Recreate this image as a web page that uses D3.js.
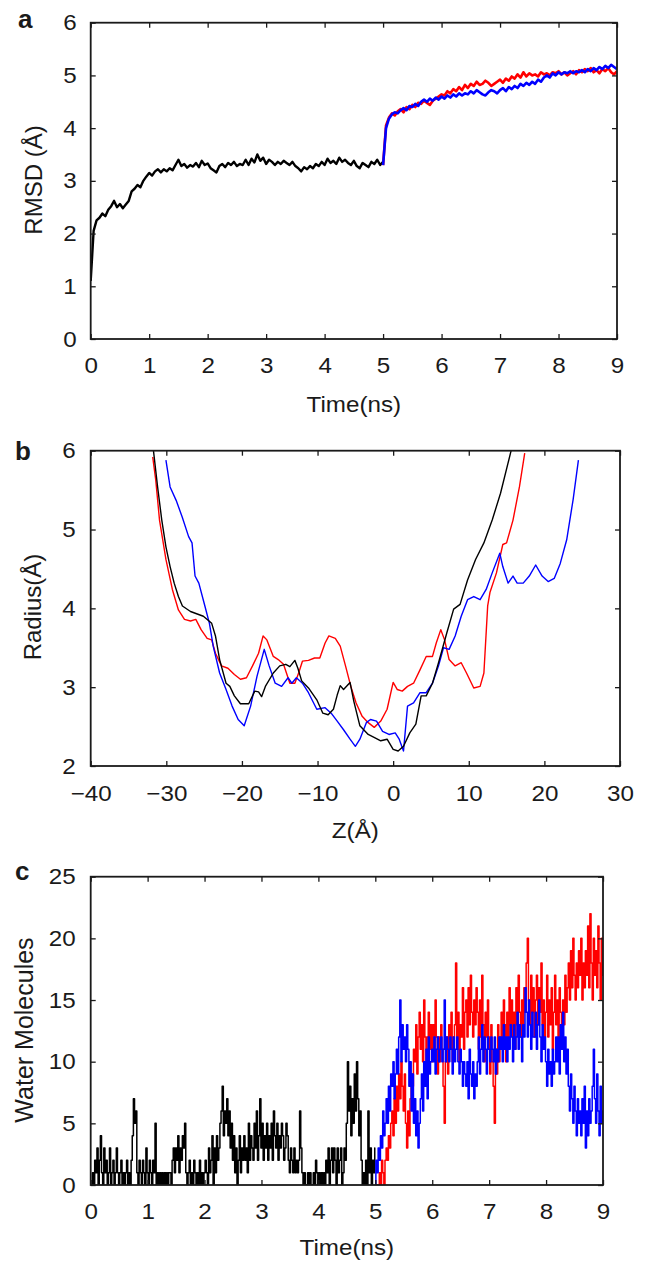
<!DOCTYPE html>
<html><head><meta charset="utf-8">
<script src="https://cdn.jsdelivr.net/npm/d3@7"></script>
<style>
html,body{margin:0;padding:0;background:#fff;}
svg text{font-family:"Liberation Sans",Arial,sans-serif;fill:#1a1a1a;}
</style></head><body>
<svg id="chart" width="647" height="1262"></svg>
<script>
// ---------- Panel a: RMSD (Å) vs time (ns) ----------
const rmsdStep = 0.05;
const rmsdBlackStart = 0, rmsdColorStart = 5;
const rmsdBlack = [1.10,2.05,2.25,2.30,2.38,2.33,2.45,2.52,2.62,2.50,2.56,2.48,2.55,2.62,2.80,2.85,2.92,2.88,3.00,3.08,
 3.15,3.10,3.18,3.22,3.16,3.22,3.18,3.24,3.20,3.30,3.40,3.28,3.32,3.25,3.30,3.27,3.34,3.26,3.38,3.30,
 3.33,3.24,3.20,3.16,3.28,3.32,3.26,3.34,3.30,3.36,3.28,3.32,3.30,3.40,3.30,3.42,3.35,3.50,3.38,3.44,
 3.32,3.40,3.36,3.30,3.36,3.32,3.38,3.34,3.30,3.36,3.28,3.24,3.18,3.26,3.22,3.28,3.24,3.32,3.28,3.36,
 3.30,3.42,3.34,3.38,3.32,3.44,3.36,3.40,3.34,3.30,3.38,3.28,3.24,3.34,3.30,3.26,3.36,3.32,3.40,3.30,3.36];
const rmsdRed = [3.30,4.05,4.20,4.28,4.24,4.32,4.36,4.30,4.40,4.36,4.44,4.40,4.48,4.46,4.52,4.48,4.44,4.52,4.56,4.60,
 4.64,4.62,4.70,4.66,4.74,4.70,4.78,4.72,4.82,4.76,4.84,4.80,4.88,4.82,4.84,4.90,4.86,4.80,4.84,4.88,
 4.92,4.86,4.94,4.90,4.98,4.94,5.02,4.96,5.06,4.98,5.04,5.00,5.02,4.98,5.06,5.02,5.04,5.00,5.06,5.04,
 5.08,5.02,5.06,5.00,5.04,5.08,5.02,5.10,5.06,5.12,5.08,5.14,5.06,5.10,5.04,5.12,5.08,5.14,5.06,5.02,5.08];
const rmsdBlue = [3.30,4.00,4.18,4.26,4.30,4.28,4.34,4.38,4.34,4.42,4.40,4.46,4.42,4.50,4.54,4.50,4.56,4.52,4.58,4.54,
 4.60,4.56,4.62,4.58,4.64,4.60,4.66,4.62,4.66,4.64,4.70,4.66,4.72,4.68,4.64,4.62,4.68,4.72,4.70,4.66,
 4.72,4.76,4.70,4.78,4.74,4.80,4.76,4.84,4.80,4.86,4.82,4.88,4.84,4.92,4.88,4.96,5.00,4.96,5.04,5.00,
 5.06,5.02,5.06,5.04,5.08,5.04,5.08,5.06,5.10,5.06,5.12,5.08,5.14,5.10,5.16,5.12,5.18,5.14,5.20,5.16,5.12];
const timeTicks = [0,1,2,3,4,5,6,7,8,9];
const rmsdTicks = [0,1,2,3,4,5,6];

// ---------- Panel b: pore radius (Å) vs Z (Å) ----------
const radiusBlack = [[-31.7,6.0],[-31.15,5.54],[-30.6,5.12],[-30.05,4.78],[-29.5,4.53],[-28.96,4.32],[-28.4,4.15],[-27.87,4.03],
 [-26.8,3.96],[-25.1,3.9],[-24.0,3.81],[-23.5,3.65],[-22.95,3.35],[-22.1,3.05],[-21.6,3.01],[-21.0,2.89],[-20.2,2.79],
 [-19.1,2.79],[-18.3,2.95],[-17.8,2.94],[-17.4,2.88],[-16.9,3.01],[-15.85,3.18],[-15.0,3.27],[-14.2,3.29],[-13.66,3.26],
 [-13.0,3.34],[-12.6,3.24],[-12.1,3.08],[-11.2,2.99],[-10.1,2.84],[-9.3,2.67],[-8.6,2.65],[-7.9,2.72],[-7.4,2.9],
 [-7.0,3.02],[-6.56,2.97],[-5.7,3.06],[-5.2,2.82],[-4.4,2.51],[-3.3,2.4],[-2.46,2.36],[-1.64,2.32],[-0.8,2.34],
 [0,2.21],[0.66,2.19],[1.37,2.25],[2.2,2.42],[3.0,2.53],[3.7,2.89],[4.37,2.89],[5.2,3.05],[6.0,3.31],[7.1,3.69],
 [8.0,3.99],[8.85,4.05],[9.84,4.36],[10.9,4.62],[12.0,4.83],[13.1,5.12],[14.2,5.46],[15.6,6.0]];
const radiusRed = [[-31.8,5.92],[-31.4,5.63],[-30.9,5.12],[-30.05,4.62],[-29.2,4.24],[-28.4,3.98],[-27.6,3.86],[-26.8,3.84],
 [-26.1,3.86],[-25.4,3.73],[-24.6,3.62],[-24.0,3.6],[-23.5,3.43],[-22.7,3.27],[-21.85,3.24],[-21.0,3.16],[-20.2,3.1],
 [-19.4,3.12],[-18.6,3.27],[-17.8,3.43],[-17.2,3.65],[-16.7,3.6],[-15.85,3.39],[-15.2,3.35],[-14.5,3.29],[-13.66,3.05],
 [-13.0,3.05],[-12.5,3.18],[-12.0,3.33],[-11.2,3.34],[-10.4,3.37],[-9.7,3.37],[-9.0,3.56],[-8.5,3.65],[-7.65,3.62],
 [-7.0,3.52],[-6.3,3.27],[-5.6,3.01],[-4.9,2.8],[-4.1,2.63],[-3.3,2.55],[-2.5,2.49],[-1.64,2.57],[-0.8,2.72],[0,3.06],
 [0.55,2.97],[1.2,2.95],[1.9,3.01],[2.7,3.05],[3.55,3.22],[4.37,3.39],[5.2,3.39],[5.7,3.56],[6.3,3.73],[6.8,3.6],
 [7.4,3.35],[8.2,3.27],[9.0,3.31],[9.7,3.18],[10.66,2.99],[11.5,3.01],[12.0,3.18],[12.5,4.03],[12.8,4.2],[13.66,4.45],
 [14.5,4.81],[15.0,4.83],[15.85,5.12],[16.7,5.54],[17.4,5.97]];
const radiusBlue = [[-30.05,5.88],[-29.5,5.54],[-28.7,5.37],[-27.9,5.16],[-27.05,4.91],[-26.6,4.83],[-26.2,4.41],[-25.7,4.32],
 [-24.9,4.03],[-24.3,3.81],[-23.8,3.52],[-22.95,3.18],[-22.1,2.97],[-21.3,2.76],[-20.5,2.59],[-19.7,2.51],[-18.85,2.76],
 [-18.0,3.14],[-17.05,3.48],[-16.4,3.27],[-15.6,3.05],[-14.75,3.01],[-13.9,3.12],[-13.4,3.05],[-12.8,3.12],[-12.0,3.05],
 [-11.2,2.93],[-10.1,2.72],[-9.0,2.74],[-8.2,2.67],[-7.4,2.57],[-6.56,2.46],[-5.7,2.34],[-5.0,2.25],[-4.4,2.34],
 [-3.55,2.55],[-3.0,2.59],[-2.2,2.57],[-1.4,2.44],[-0.55,2.4],[0.27,2.42],[0.8,2.34],[1.37,2.19],[1.9,2.76],[2.7,2.8],
 [3.55,2.93],[4.37,2.93],[5.2,3.05],[6.0,3.27],[6.66,3.5],[7.4,3.48],[8.2,3.65],[9.0,3.9],[9.84,4.11],[10.66,4.15],
 [11.5,4.11],[12.3,4.24],[13.1,4.45],[14.1,4.7],[14.5,4.53],[15.2,4.32],[15.85,4.41],[16.4,4.32],[17.2,4.32],[18.0,4.41],
 [18.85,4.55],[19.7,4.41],[20.5,4.34],[21.3,4.38],[22.1,4.57],[22.95,4.87],[23.8,5.38],[24.5,5.88]];
const zTicks = [-40,-30,-20,-10,0,10,20,30];
const radiusTicks = [2,3,4,5,6];

// ---------- Panel c: water molecules vs time (ns) ----------
const waterStep = 0.02;
const waterBlackStart = 0, waterColorStart = 5;
const waterBlack = [0,0,1,0,2,
 1,3,0,2,4,1,0,3,1,2, 0,1,3,0,1,2,0,1,3,1, 0,1,2,0,1,0,1,2,0,1, 0,2,4,7,5,6,1,0,2,1,
 0,2,1,0,3,1,0,2,1,0, 2,1,5,0,1,0,1,0,1,0, 1,0,1,0,1,1,0,2,3,1, 3,2,4,1,3,2,4,3,5,1,
 0,1,2,0,1,0,2,1,0,1, 0,2,0,1,0,1,2,1,0,3, 1,2,4,0,3,1,4,2,3,5, 6,8,4,6,5,7,4,6,3,5,
 2,4,1,3,0,2,4,1,3,2, 4,2,3,1,5,2,4,3,2,5, 3,6,2,4,7,3,5,2,4,3, 5,2,4,3,5,2,6,4,3,5,
 2,4,3,5,4,2,3,5,4,2, 1,3,2,1,3,1,2,1,2,6, 3,1,0,1,0,0,1,0,1,0, 0,1,0,2,1,0,1,0,1,0,
 1,0,2,1,3,0,2,3,1,3, 2,0,3,1,2,3,0,1,3,2, 5,10,6,8,4,7,5,9,6,10, 7,4,6,2,0,1,0,2,0,6,
 1,3,0,2,1,3];
const waterRed = [0,0,0,0,1,0,2,1,0,2, 3,2,4,3,5,6,4,7,5,8, 6,9,7,10,8,6,9,5,3,6, 4,7,9,8,11,10,13,9,12,14,
 11,13,10,15,12,9,12,14,11,13, 10,13,11,15,12,9,12,10,13,11, 8,5,10,12,9,13,11,14,10,12, 13,18,11,14,10,13,12,16,11,14,
 15,12,16,13,17,14,12,15,13,16, 14,11,15,12,17,13,10,14,12,15, 12,9,13,10,8,5,11,9,13,10, 12,14,11,15,13,10,14,12,16,13,
 15,12,14,11,16,13,17,14,12,15, 13,16,14,18,20,15,13,17,14,16, 12,15,17,13,16,14,18,13,15,12, 14,17,12,15,13,16,11,14,17,13,
 15,12,16,14,11,15,13,17,14,16, 18,15,19,16,20,17,15,18,16,19, 17,20,15,18,16,19,17,21,16,22, 18,15,20,17,19,16,21,18,15,20,
 17];
const waterBlue = [0,2,1,3,2,4,3,6,4,5, 7,5,8,6,9,8,10,7,9,11, 9,12,15,10,13,11,12,10,13,11, 8,10,6,9,5,7,4,6,3,5,
 7,9,6,10,8,11,7,12,9,10, 11,10,12,9,11,12,10,11,12,10, 11,15,10,12,11,10,12,11,9,12, 10,11,12,10,9,11,10,8,10,9,
 8,10,7,11,9,8,10,7,9,8, 10,12,9,11,13,10,12,11,9,12, 11,10,12,11,10,12,9,11,10,12, 11,12,10,13,11,12,10,12,11,13,
 12,10,13,11,12,14,11,13,12,10, 13,12,16,14,12,15,13,11,14,12, 12,14,11,13,15,12,10,13,11,12, 10,8,11,9,10,8,11,9,10,12,
 10,12,9,13,11,14,10,12,9,11, 8,6,9,7,5,8,6,4,7,5, 6,4,7,5,8,3,6,4,7,5, 6,8,11,7,5,9,6,4,8,5,
 6];
const waterTicks = [0,5,10,15,20,25];

// ---------- drawing ----------
const svg = d3.select("#chart");
const STRETCH = 1.1;
function stretch(sel, k) {
  sel.each(function () {
    const L = this.getComputedTextLength();
    this.setAttribute("textLength", L * k);
    this.setAttribute("lengthAdjust", "spacingAndGlyphs");
  });
}
const toPairs = (vals, t0, dt) => vals.map((v, i) => [t0 + i * dt, v]);
const fmt = d3.format("d");

function panel(c) {
  const g = svg.append("g");
  const x = d3.scaleLinear().domain(c.xDomain).range([c.left, c.right]);
  const y = d3.scaleLinear().domain(c.yDomain).range([c.bottom, c.top]);
  const clipId = "clip-" + c.id;
  svg.append("clipPath").attr("id", clipId).append("rect")
    .attr("x", c.left).attr("y", c.top - 1).attr("width", c.right - c.left).attr("height", c.bottom - c.top + 1);
  const lg = g.append("g").attr("clip-path", `url(#${clipId})`);
  c.series.forEach(s => {
    const line = d3.line().x(d => x(d[0])).y(d => y(d[1])).curve(s.curve || d3.curveLinear);
    lg.append("path").datum(s.data).attr("fill", "none").attr("stroke", s.color)
      .attr("stroke-width", s.width).attr("stroke-linejoin", "round").attr("d", line);
  });
  const T = 5;
  const fs = 22;
  const ax = (sel) => sel.attr("color", "#1a1a1a").attr("font-size", fs).call(s => s.select(".domain").remove());
  const xb = g.append("g").attr("transform", `translate(0,${c.bottom})`)
    .call(d3.axisBottom(x).tickValues(c.xTicks).tickFormat(fmt).tickSizeInner(-T).tickSizeOuter(0).tickPadding(c.xPad)).call(ax);
  g.append("g").attr("transform", `translate(0,${c.top})`)
    .call(d3.axisTop(x).tickValues(c.xTicks).tickSizeInner(-T).tickSizeOuter(0).tickFormat("")).call(ax);
  const yl = g.append("g").attr("transform", `translate(${c.left},0)`)
    .call(d3.axisLeft(y).tickValues(c.yTicks).tickFormat(fmt).tickSizeInner(-T).tickSizeOuter(0).tickPadding(c.yPad)).call(ax);
  g.append("g").attr("transform", `translate(${c.right},0)`)
    .call(d3.axisRight(y).tickValues(c.yTicks).tickSizeInner(-T).tickSizeOuter(0).tickFormat("")).call(ax);
  g.selectAll(".tick line").attr("stroke-width", 1.3);
  stretch(xb.selectAll("text"), STRETCH);
  stretch(yl.selectAll("text"), STRETCH);
  g.append("rect").attr("x", c.left).attr("y", c.top).attr("width", c.right - c.left).attr("height", c.bottom - c.top)
    .attr("fill", "none").attr("stroke", "#1a1a1a").attr("stroke-width", 1.8);
  const xt = g.append("text").attr("x", (c.left + c.right) / 2).attr("y", c.xTitleY).attr("text-anchor", "middle")
    .attr("font-size", fs).text(c.xTitle);
  stretch(xt, STRETCH);
  g.append("text").attr("transform", `translate(${c.yTitleX},${c.yTitleY}) rotate(-90)`).attr("text-anchor", "middle")
    .attr("font-size", c.yTitleSize || 24).text(c.yTitle);
  g.append("text").attr("x", c.letterX).attr("y", c.letterY).attr("font-size", 26).attr("font-weight", "bold").text(c.letter);
}

panel({
  id: "a", left: 90.7, right: 617, top: 22.7, bottom: 339,
  xDomain: [0, 9], yDomain: [0, 6], xTicks: timeTicks, yTicks: rmsdTicks, xPad: 18, yPad: 14,
  series: [
    { data: toPairs(rmsdBlack, rmsdBlackStart, rmsdStep), color: "#000", width: 2.4 },
    { data: toPairs(rmsdRed, rmsdColorStart, rmsdStep), color: "#ff0000", width: 2.6 },
    { data: toPairs(rmsdBlue, rmsdColorStart, rmsdStep), color: "#0000ff", width: 2.6 }
  ],
  xTitle: "Time(ns)", xTitleY: 412, yTitle: "RMSD (Å)", yTitleX: 42, yTitleY: 180,
  letter: "a", letterX: 18, letterY: 28
});

panel({
  id: "b", left: 90.7, right: 620, top: 450.7, bottom: 766,
  xDomain: [-40, 30], yDomain: [2, 6], xTicks: zTicks, yTicks: radiusTicks, xPad: 19, yPad: 15,
  series: [
    { data: radiusRed, color: "#ff0000", width: 1.4 },
    { data: radiusBlue, color: "#0000ff", width: 1.4 },
    { data: radiusBlack, color: "#000", width: 1.4 }
  ],
  xTitle: "Z(Å)", xTitleY: 838, yTitle: "Radius(Å)", yTitleX: 41, yTitleY: 607,
  letter: "b", letterX: 15, letterY: 460
});

panel({
  id: "c", left: 90.7, right: 603, top: 876.7, bottom: 1185,
  xDomain: [0, 9], yDomain: [0, 25], xTicks: timeTicks, yTicks: waterTicks, xPad: 18, yPad: 15,
  series: [
    { data: toPairs(waterBlack, waterBlackStart, waterStep), color: "#000", width: 1.5, curve: d3.curveStep },
    { data: toPairs(waterRed, waterColorStart, waterStep), color: "#ff0000", width: 1.5, curve: d3.curveStep },
    { data: toPairs(waterBlue, waterColorStart, waterStep), color: "#0000ff", width: 1.5, curve: d3.curveStep }
  ],
  xTitle: "Time(ns)", xTitleY: 1255, yTitle: "Water Molecules", yTitleX: 33, yTitleY: 1030, yTitleSize: 25,
  letter: "c", letterX: 15, letterY: 880
});
</script>
</body></html>
